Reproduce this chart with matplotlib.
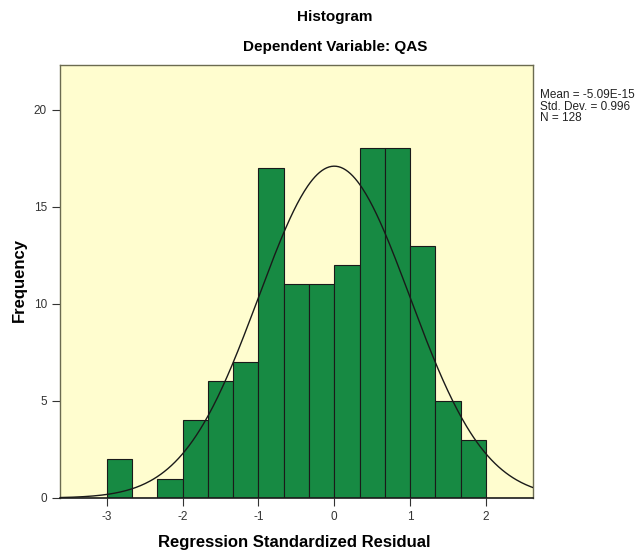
import matplotlib
matplotlib.use('Agg')
import matplotlib.pyplot as plt
import numpy as np

plt.rcParams.update({
    'font.family': ['Liberation Sans', 'DejaVu Sans'],
})

# --- Data ---
bin_edges = [-3.0, -2.667, -2.333, -2.0, -1.667, -1.333, -1.0, -0.667,
             -0.333, 0.0, 0.333, 0.667, 1.0, 1.333, 1.667, 2.0]
counts = [2, 0, 1, 4, 6, 7, 17, 11, 11, 12, 18, 18, 13, 5, 3]
x_ticks = [-3, -2, -1, 0, 1, 2]
y_ticks = [0, 5, 10, 15, 20]
mean_val = -5.09e-15
std_val = 0.996
n_val = 128

BG = '#FFFDCF'
BAR = '#178A43'

fig = plt.figure(figsize=(6.42, 5.56), dpi=100)
ax = fig.add_axes([60 / 642, 1 - 498 / 556, (533 - 60) / 642, (498 - 65) / 556])
ax.set_facecolor(BG)

edges = np.array(bin_edges)
widths = np.diff(edges)
ax.bar(edges[:-1], counts, width=widths, align='edge', color=BAR,
       edgecolor='#1a1a1a', linewidth=0.8, zorder=2)

# normal curve scaled to the histogram
xlim = (-3.616, 2.62)
xs = np.linspace(xlim[0], xlim[1], 400)
bw = widths.mean()
ys = n_val * bw * np.exp(-0.5 * ((xs - mean_val) / std_val) ** 2) / (std_val * np.sqrt(2 * np.pi))
ax.plot(xs, ys, color='#1a1a1a', linewidth=1.0, zorder=3)

ax.set_xlim(*xlim)
ax.set_ylim(0, 22.3)
ax.set_xticks(x_ticks)
ax.set_xticklabels([str(t) for t in x_ticks])
ax.set_yticks(y_ticks)
ax.tick_params(axis='both', labelsize=8.5, color='#333333', labelcolor='#333333',
               length=6, width=0.8, direction='out')

for side in ['top', 'right', 'left']:
    ax.spines[side].set_color('#6b6b50')
    ax.spines[side].set_linewidth(1.0)
ax.spines['bottom'].set_color('#1a1a1a')
ax.spines['bottom'].set_linewidth(1.2)

fig.text(294 / 642, 1 - 543 / 556, 'Regression Standardized Residual', ha='center',
         va='center', fontsize=12, fontweight='bold')
fig.text(19 / 642, 1 - 280 / 556, 'Frequency', ha='center', va='center',
         rotation=90, fontsize=12, fontweight='bold')

fig.text(335 / 642, 1 - 17 / 556, 'Histogram', ha='center', va='center',
         fontsize=11, fontweight='bold')
fig.text(335 / 642, 1 - 47 / 556, 'Dependent Variable: QAS', ha='center', va='center',
         fontsize=11, fontweight='bold')

stats = 'Mean = %.2E\nStd. Dev. = %.3f\nN = %d' % (mean_val, std_val, n_val)
fig.text(540 / 642, 1 - 89 / 556, stats, ha='left', va='top', fontsize=8.5,
         linespacing=0.95, color='#222222')

fig.savefig('out.png', dpi=100)
